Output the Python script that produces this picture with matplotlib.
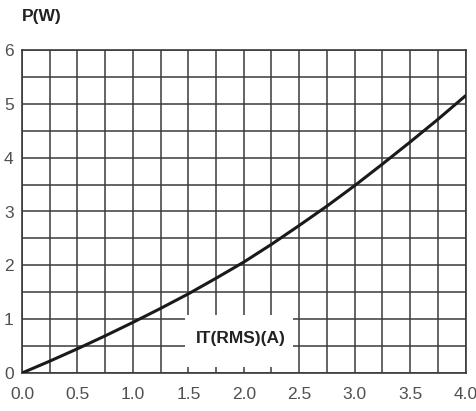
import matplotlib
matplotlib.use("Agg")
import matplotlib.pyplot as plt
from matplotlib.patches import Rectangle
from matplotlib import font_manager
import numpy as np

current = [0.0, 0.25, 0.5, 0.75, 1.0, 1.25, 1.5, 1.75, 2.0,
           2.25, 2.5, 2.75, 3.0, 3.25, 3.5, 3.75, 4.0]
power = [0.0, 0.22, 0.45, 0.69, 0.94, 1.20, 1.47, 1.76, 2.06,
         2.39, 2.74, 3.10, 3.48, 3.88, 4.29, 4.71, 5.15]

x_ticks = [0.0, 0.5, 1.0, 1.5, 2.0, 2.5, 3.0, 3.5, 4.0]
x_labels = ["0.0", "0.5", "1.0", "1.5", "2.0", "2.5", "3.0", "3.5", "4.0"]
y_ticks = [0, 1, 2, 3, 4, 5, 6]

names = {f.name for f in font_manager.fontManager.ttflist}
narrow = "Liberation Sans Narrow" if "Liberation Sans Narrow" in names else "Liberation Sans"
fam = [narrow, "DejaVu Sans"]

fig = plt.figure(figsize=(4.77, 4.11), dpi=100)
ax = fig.add_axes([22 / 477, 38 / 411, 443.5 / 477, 323 / 411])

ax.plot(current, power, color="#1a1a1a", lw=2.2, zorder=3, solid_capstyle="round")

ax.set_xlim(0, 4.0)
ax.set_ylim(0, 6)
ax.set_xticks(x_ticks)
ax.set_xticklabels(x_labels)
ax.set_xticks(np.arange(0.25, 4.0, 0.5), minor=True)
ax.set_yticks(y_ticks)
ax.set_yticks(np.arange(0.5, 6.0, 1.0), minor=True)
ax.tick_params(which="both", length=0)
ax.tick_params(axis="x", pad=10, labelsize=12.5, labelcolor="#505050")
ax.tick_params(axis="y", pad=6, labelsize=12.5, labelcolor="#505050")
for lab in ax.get_xticklabels() + ax.get_yticklabels():
    lab.set_family(fam)

ax.set_axisbelow(True)
ax.grid(True, which="both", color="#3a3a3a", lw=1.1)
for sp in ax.spines.values():
    sp.set_color("#3a3a3a")
    sp.set_linewidth(1.2)

# white box behind the x-axis caption
ax.add_patch(Rectangle((1.47, 0.11), 0.97, 0.97, facecolor="white",
                       edgecolor="none", zorder=1))
ax.text(1.97, 0.65, "IT(RMS)(A)", ha="center", va="center", fontsize=12.5,
        fontweight="bold", color="#222222", family=fam, zorder=4)

fig.text(42 / 477, 1 - 17 / 411, "P(W)", ha="center", va="center", fontsize=12.5,
         fontweight="bold", color="#222222", family=fam)

fig.savefig("out.png", dpi=100)
